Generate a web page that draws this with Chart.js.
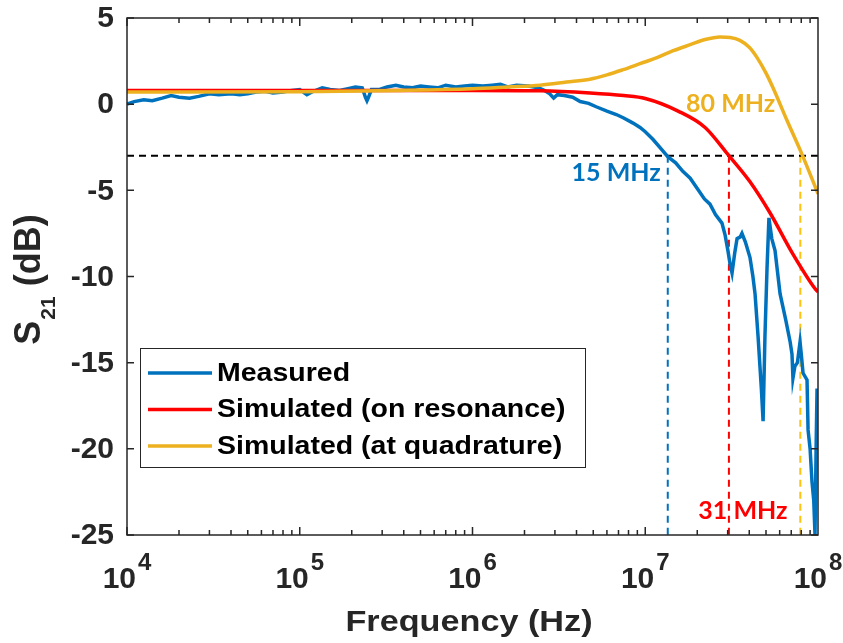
<!DOCTYPE html>
<html>
<head>
<meta charset="utf-8">
<script src="https://cdn.jsdelivr.net/npm/chart.js@4.4.1/dist/chart.umd.min.js"></script>
<style>
body { margin: 0; background: #fff; }
</style>
</head>
<body>
<canvas id="s21Chart" width="843" height="643"></canvas>
<script>
// measured S21
var freqMeas = [1e4, 1.1e4, 1.25e4, 1.4e4, 1.6e4, 1.8e4, 2e4, 2.3e4, 2.6e4, 3e4, 3.4e4, 4e4, 4.5e4, 5e4, 5.6e4, 6.3e4, 7e4, 8e4, 9e4, 1e5,
  1.1e5, 1.2e5, 1.35e5, 1.5e5, 1.7e5, 1.9e5, 2.1e5, 2.3e5, 2.4e5, 2.45e5, 2.5e5, 2.6e5, 2.9e5, 3.2e5, 3.6e5, 4e5, 4.5e5, 5e5, 5.6e5, 6.3e5,
  7e5, 8e5, 9e5, 1e6, 1.15e6, 1.3e6, 1.45e6, 1.6e6, 1.8e6, 2.1e6, 2.4e6, 2.6e6, 2.8e6, 2.95e6, 3.1e6, 3.4e6, 3.8e6, 4.2e6, 4.7e6, 5.2e6,
  6e6, 6.8e6, 7.5e6, 8.5e6, 9.33e6, 1e7, 1.11e7, 1.25e7, 1.35e7, 1.5e7, 1.65e7, 1.82e7, 2e7, 2.2e7, 2.37e7, 2.55e7, 2.78e7, 2.9e7, 3.01e7, 3.1e7, 3.18e7,
  3.3e7, 3.4e7, 3.55e7, 3.63e7, 3.8e7, 4.04e7, 4.2e7, 4.32e7, 4.5e7, 4.7e7, 4.81e7, 4.93e7, 5.07e7, 5.2e7, 5.4e7, 5.64e7, 6.03e7, 6.5e7, 6.9e7, 7.07e7,
  7.16e7, 7.35e7, 7.6e7, 7.87e7, 8e7, 8.19e7, 8.64e7, 8.76e7, 9e7, 9.23e7, 9.45e7, 9.61e7, 9.75e7, 9.87e7, 1e8];
var dbMeas = [0.0, 0.15, 0.25, 0.2, 0.35, 0.5, 0.4, 0.35, 0.45, 0.6, 0.55, 0.6, 0.55, 0.6, 0.7, 0.75, 0.65, 0.7, 0.8, 0.85,
  0.55, 0.75, 0.95, 0.85, 0.8, 0.9, 1.0, 0.95, 0.4, 0.2, 0.4, 0.85, 0.85, 1.0, 1.1, 1.0, 0.95, 1.05, 1.0, 0.95,
  1.1, 1.0, 1.05, 1.1, 1.05, 1.1, 1.15, 1.0, 1.1, 1.05, 0.95, 0.8, 0.6, 0.35, 0.55, 0.5, 0.4, 0.15, 0.05, -0.15,
  -0.4, -0.6, -0.8, -1.1, -1.35, -1.6, -2.05, -2.65, -3.05, -3.4, -3.9, -4.3, -4.9, -5.5, -5.8, -6.4, -6.9, -7.6, -8.5, -9.3, -9.8,
  -8.6, -7.8, -7.7, -7.5, -8.0, -8.9, -10.0, -11.0, -13.5, -16.5, -18.4, -13.5, -9.5, -6.6, -7.8, -8.5, -11.0, -12.5, -13.8, -14.5,
  -15.9, -15.2, -15.0, -13.8, -14.5, -15.6, -16.0, -18.9, -20.0, -21.9, -23.0, -25.0, -20.0, -16.6, -16.6];

// simulated, on resonance
var freqRes = [1e4, 1e5, 1e6, 2.46e6, 4.79e6, 7.5e6, 1e7, 1.55e7, 2.22e7, 3e7, 4.04e7, 5.27e7, 7.16e7, 9.6e7, 1e8];
var dbRes = [0.8, 0.8, 0.8, 0.78, 0.65, 0.5, 0.33, -0.4, -1.35, -2.9, -4.5, -6.3, -8.7, -10.7, -10.9];

// simulated, at quadrature
var freqQuad = [1e4, 1e5, 3.8e5, 1e6, 1.6e6, 2.46e6, 3.5e6, 4.79e6, 6e6, 7.43e6, 9.33e6, 1.17e7, 1.45e7, 1.82e7, 2.22e7, 2.71e7, 3.1e7, 3.53e7, 4e7, 4.44e7, 5e7, 5.49e7, 6.62e7, 8.07e7, 1e8];
var dbQuad = [0.7, 0.72, 0.8, 0.9, 1.0, 1.1, 1.28, 1.45, 1.7, 2.0, 2.35, 2.7, 3.1, 3.45, 3.75, 3.9, 3.87, 3.7, 3.3, 2.7, 1.8, 0.95, -0.95, -2.9, -5.2];

// -3 dB markers
var cutoffLevel = -3;
var cutoffFreqs = [13.5e6, 30.5e6, 7.9e7];
var cutoffLabels = ["15 MHz", "31 MHz", "80 MHz"];

var yTicks = [5, 0, -5, -10, -15, -20, -25];
var xDecades = [4, 5, 6, 7, 8];
var seriesNames = ["Measured", "Simulated (on resonance)", "Simulated (at quadrature)"];

var cBlue = '#0072BD', cRed = '#FF0000', cGold = '#EDB120', cGoldDash = '#FFC20E';
var ARIAL = '"Liberation Sans", Arial, sans-serif';

function pts(xs, ys) {
  return xs.map(function (x, i) { return {x: x, y: ys[i]}; });
}

// text with optional horizontal stretch
function txt(ctx, s, x, y, font, sx) {
  ctx.save();
  ctx.font = font;
  ctx.translate(x, y);
  ctx.scale(sx || 1, 1);
  ctx.fillText(s, 0, 0);
  ctx.restore();
}

var dashSets = [
  {data: [{x: 1e4, y: cutoffLevel}, {x: 1e8, y: cutoffLevel}], borderColor: '#000'},
  {data: [{x: cutoffFreqs[0], y: cutoffLevel}, {x: cutoffFreqs[0], y: -25}], borderColor: cBlue},
  {data: [{x: cutoffFreqs[1], y: cutoffLevel}, {x: cutoffFreqs[1], y: -25}], borderColor: cRed},
  {data: [{x: cutoffFreqs[2], y: cutoffLevel}, {x: cutoffFreqs[2], y: -25}], borderColor: cGoldDash}
].map(function (d) {
  d.borderWidth = 2; d.borderDash = [7, 5]; d.pointRadius = 0; d.order = 4; d.label = '';
  return d;
});

var axesPlugin = {
  id: 'matlabAxes',
  afterDraw: function (chart) {
    var ctx = chart.ctx, a = chart.chartArea;
    var xs = chart.scales.x, ys = chart.scales.y;
    ctx.save();
    ctx.strokeStyle = '#262626';
    ctx.lineWidth = 1.5;
    ctx.strokeRect(a.left, a.top, a.right - a.left, a.bottom - a.top);

    // y ticks + labels
    ctx.fillStyle = '#262626';
    ctx.textAlign = 'right';
    ctx.textBaseline = 'middle';
    yTicks.forEach(function (v) {
      var py = ys.getPixelForValue(v);
      ctx.beginPath();
      ctx.moveTo(a.left, py); ctx.lineTo(a.left + 7, py);
      ctx.moveTo(a.right, py); ctx.lineTo(a.right - 7, py);
      ctx.stroke();
      txt(ctx, String(v), a.left - 13, py + 1, 'bold 30px ' + ARIAL);
    });

    // x ticks (decades + minors)
    for (var d = 4; d < 8; d++) {
      for (var m = 1; m < 10; m++) {
        var px = xs.getPixelForValue(m * Math.pow(10, d));
        var len = m === 1 ? 8 : 5;
        ctx.beginPath();
        ctx.moveTo(px, a.bottom); ctx.lineTo(px, a.bottom - len);
        ctx.moveTo(px, a.top); ctx.lineTo(px, a.top + len);
        ctx.stroke();
      }
    }
    ctx.textAlign = 'left';
    ctx.textBaseline = 'alphabetic';
    xDecades.forEach(function (e) {
      var px = xs.getPixelForValue(Math.pow(10, e));
      ctx.font = 'bold 30px ' + ARIAL;
      var w1 = ctx.measureText('10').width;
      ctx.font = 'bold 24px ' + ARIAL;
      var w2 = ctx.measureText(String(e)).width;
      var x0 = px - (w1 + w2 + 2) / 2;
      txt(ctx, '10', x0, 588, 'bold 30px ' + ARIAL);
      txt(ctx, String(e), x0 + w1 + 2, 570, 'bold 24px ' + ARIAL);
    });

    // axis titles
    ctx.textAlign = 'center';
    txt(ctx, 'Frequency (Hz)', 469, 631, 'bold 29px ' + ARIAL, 1.18);

    ctx.save();
    ctx.translate(40, 280);
    ctx.rotate(-Math.PI / 2);
    ctx.textAlign = 'left';
    ctx.font = 'bold 36px ' + ARIAL;
    var wS = ctx.measureText('S').width;
    var wP = ctx.measureText(' (dB)').width;
    ctx.font = 'bold 21px ' + ARIAL;
    var wSub = ctx.measureText('21').width;
    var sx = -(wS + wSub + wP) / 2;
    txt(ctx, 'S', sx, 0, 'bold 36px ' + ARIAL);
    txt(ctx, '21', sx + wS + 1, 15, 'bold 21px ' + ARIAL);
    txt(ctx, ' (dB)', sx + wS + wSub + 1, 0, 'bold 36px ' + ARIAL);
    ctx.restore();

    // cutoff labels
    var lf = 'bold 25px Lato, "Open Sans", sans-serif';
    ctx.textBaseline = 'middle';
    ctx.fillStyle = cBlue;
    ctx.textAlign = 'right';
    txt(ctx, cutoffLabels[0], xs.getPixelForValue(cutoffFreqs[0]) - 7, ys.getPixelForValue(-4.0), lf);
    ctx.fillStyle = cRed;
    ctx.textAlign = 'center';
    txt(ctx, cutoffLabels[1], xs.getPixelForValue(cutoffFreqs[1]) + 14, ys.getPixelForValue(-23.6), lf);
    ctx.fillStyle = cGold;
    ctx.textAlign = 'right';
    txt(ctx, cutoffLabels[2], xs.getPixelForValue(cutoffFreqs[2]) - 25, ys.getPixelForValue(0.0), lf);

    // legend box
    var lx = 140, ly = 348, lw = 445, lh = 119;
    ctx.fillStyle = '#fff';
    ctx.fillRect(lx, ly, lw, lh);
    ctx.strokeStyle = '#262626';
    ctx.lineWidth = 1;
    ctx.strokeRect(lx + 0.5, ly + 0.5, lw, lh);
    var cols = [cBlue, cRed, cGold];
    ctx.textAlign = 'left';
    ctx.fillStyle = '#000';
    seriesNames.forEach(function (name, i) {
      var ry = ly + 25 + i * 36.5;
      ctx.strokeStyle = cols[i];
      ctx.lineWidth = 3.5;
      ctx.beginPath();
      ctx.moveTo(148, ry); ctx.lineTo(212, ry);
      ctx.stroke();
      txt(ctx, name, 217, ry + 1, 'bold 25px ' + ARIAL, 1.14);
    });
    ctx.restore();
  }
};

var ctxS = document.getElementById("s21Chart").getContext('2d');
var s21Chart = new Chart(ctxS, {
  type: 'line',
  data: {
    datasets: [
      {label: seriesNames[2], data: pts(freqQuad, dbQuad), borderColor: cGold, borderWidth: 3.5, pointRadius: 0, cubicInterpolationMode: 'monotone', order: 1},
      {label: seriesNames[1], data: pts(freqRes, dbRes), borderColor: cRed, borderWidth: 3.5, pointRadius: 0, cubicInterpolationMode: 'monotone', order: 2},
      {label: seriesNames[0], data: pts(freqMeas, dbMeas), borderColor: cBlue, borderWidth: 3.5, pointRadius: 0, tension: 0, order: 3}
    ].concat(dashSets)
  },
  options: {
    responsive: false,
    animation: false,
    layout: {padding: {left: 127, right: 25, top: 18, bottom: 108}},
    plugins: {legend: {display: false}, tooltip: {enabled: false}},
    scales: {
      x: {type: 'logarithmic', min: 1e4, max: 1e8, ticks: {display: false}, grid: {display: false}, border: {display: false},
          afterFit: function (s) { s.height = 0; }},
      y: {type: 'linear', min: -25, max: 5, ticks: {display: false}, grid: {display: false}, border: {display: false},
          afterFit: function (s) { s.width = 0; }}
    }
  },
  plugins: [axesPlugin]
});
</script>
</body>
</html>
